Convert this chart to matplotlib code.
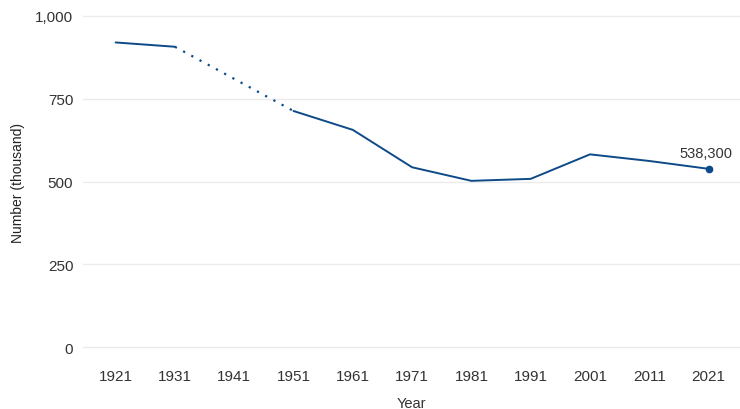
import numpy as np
import matplotlib
matplotlib.use("Agg")
import matplotlib.pyplot as plt

plt.rcParams['font.family'] = ['Liberation Sans', 'DejaVu Sans']

years = [1921, 1931, 1941, 1951, 1961, 1971, 1981, 1991, 2001, 2011, 2021]
values = [920, 907, np.nan, 713, 656, 543, 502, 508, 582, 562, 538.3]
y_ticks = [0, 250, 500, 750, 1000]
y_tick_labels = ["0", "250", "500", "750", "1,000"]
last_label = "538,300"

color = "#0e4a87"
fig = plt.figure(figsize=(7.4, 4.1), dpi=100)
ax = fig.add_axes([83/740, 1 - 355/410, 1 - 83/740, (355 - 12)/410])

yrs = np.array(years, dtype=float)
vals = np.array(values, dtype=float)
ax.plot(yrs, vals, color=color, lw=1.4, solid_capstyle='round', zorder=3)

# dotted bridge across missing value
gap = np.where(np.isnan(vals))[0]
for g in gap:
    ax.plot([yrs[g-1], yrs[g+1]], [vals[g-1], vals[g+1]], color=color, lw=1.6,
            linestyle=(0, (1, 3.2)), zorder=3)

ax.plot([yrs[-1]], [vals[-1]], 'o', color=color, ms=4.5, zorder=4)
ax.annotate(last_label, (yrs[-1], vals[-1]), xytext=(-2, 6), textcoords='offset points',
            ha='center', va='bottom', fontsize=10.5, color='#333333')

ax.set_xlim(1915.5, 2026.3)
ax.set_ylim(-21, 1015)
ax.set_yticks(y_ticks)
ax.set_yticklabels(y_tick_labels)
ax.set_xticks(years)
ax.set_xticklabels([str(y) for y in years])
ax.grid(axis='y', color='#ebebeb', lw=1.0)
ax.set_axisbelow(True)
for s in ax.spines.values():
    s.set_visible(False)
ax.tick_params(axis='both', length=0, labelsize=11, labelcolor='#333333')
ax.tick_params(axis='x', pad=11)
ax.tick_params(axis='y', pad=7)
ax.set_xlabel("Year", fontsize=10.5, color='#333333', va='center')
ax.xaxis.set_label_coords((411 - 83) / 657, (355 - 404) / 343)
ax.set_ylabel("Number (thousand)", fontsize=10, color='#222222', va='center')
ax.yaxis.set_label_coords((18 - 83) / 657, (355 - 183) / 343)

fig.savefig("out.png", dpi=100)
